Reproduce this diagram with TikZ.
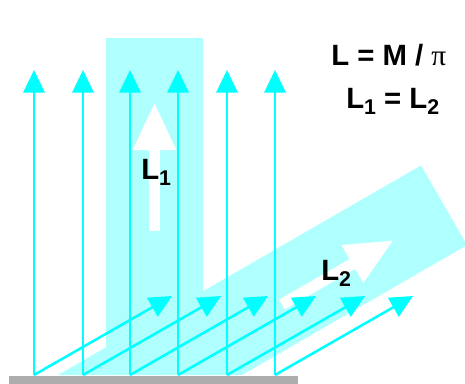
\documentclass[tikz,border=0pt]{standalone}
\usepackage{fontspec}
\setmainfont{Liberation Sans}
\newfontfamily\greekfont{Liberation Serif}
\usetikzlibrary{arrows.meta}

\definecolor{beamcyan}{RGB}{176,255,255}
\definecolor{raycyan}{RGB}{0,255,255}
\definecolor{floorgray}{RGB}{173,173,173}

\newcommand{\lsub}[1]{\raisebox{-4.5pt}{\fontsize{16}{16}\selectfont #1}}

\begin{document}
\begin{tikzpicture}[x=0.75pt,y=-0.75pt,
  ray/.style={raycyan, line width=1.9pt, -{Triangle[length=17pt,width=16pt]}},
  bigarrow/.style={white, line width=8.5pt, -{Triangle[length=36pt,width=30pt]}},
  lbl/.style={font=\fontsize{22}{26}\selectfont\bfseries, inner sep=0pt, anchor=base west}]

\useasboundingbox (0,0) rectangle (465,383);
\clip (0,0) rectangle (465,383);

% Beams
\fill[beamcyan] (106,38) rectangle (203,375);
\fill[beamcyan] (58,375) -- (421,165.4) -- (467,245.1) -- (242,375) -- cycle;

% Floor
\fill[floorgray] (9,375.5) rectangle (298,384);

% Big white arrows
\coordinate (l1tail) at (154.5,231);
\coordinate (l1tip) at (154.5,102);
\coordinate (l2tail) at (282,304.5);
\coordinate (l2tip) at (394,240);

\draw[bigarrow] (l1tail) -- (l1tip);
\draw[bigarrow] (l2tail) -- (l2tip);

% Ray starts
\coordinate (b1) at (34,375);
\coordinate (b2) at (83,375);
\coordinate (b3) at (130,375);
\coordinate (b4) at (178,375);
\coordinate (b5) at (227,375);
\coordinate (b6) at (275,375);

% Vertical rays
\coordinate (v1) at (34,70);
\coordinate (v2) at (83,70);
\coordinate (v3) at (130,70);
\coordinate (v4) at (178,70);
\coordinate (v5) at (227,70);
\coordinate (v6) at (275,70);

\draw[ray] (b1) -- (v1);
\draw[ray] (b2) -- (v2);
\draw[ray] (b3) -- (v3);
\draw[ray] (b4) -- (v4);
\draw[ray] (b5) -- (v5);
\draw[ray] (b6) -- (v6);

% Slanted rays
\coordinate (s1) at (172,296);
\coordinate (s2) at (221,296);
\coordinate (s3) at (268,296);
\coordinate (s4) at (316,296);
\coordinate (s5) at (365,296);
\coordinate (s6) at (413,296);

\draw[ray] (b1) -- (s1);
\draw[ray] (b2) -- (s2);
\draw[ray] (b3) -- (s3);
\draw[ray] (b4) -- (s4);
\draw[ray] (b5) -- (s5);
\draw[ray] (b6) -- (s6);

% Labels
\node[lbl] (l1) at (141,179) {L\lsub{1}};
\node[lbl] (l2) at (321,280) {L\lsub{2}};

\node[lbl] (eq1) at (331,65) {L = M / {\mdseries\greekfont π}};
\node[lbl] (eq2) at (346,108) {L\lsub{1} = L\lsub{2}};

\end{tikzpicture}
\end{document}
